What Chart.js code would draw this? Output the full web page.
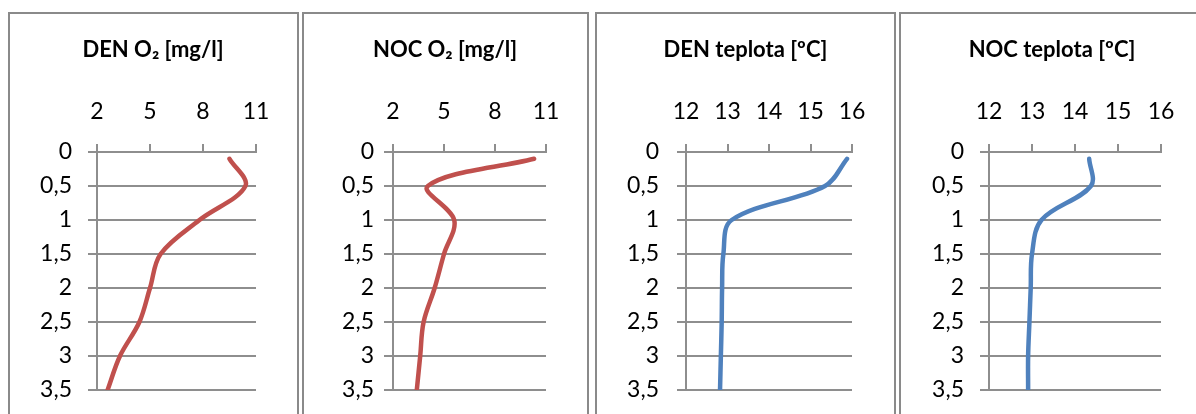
<!DOCTYPE html>
<html>
<head>
<meta charset="utf-8">
<script src="https://cdn.jsdelivr.net/npm/chart.js@4.4.1/dist/chart.umd.min.js"></script>
<style>
  body { margin: 0; background: #fff; width: 1196px; height: 414px; overflow: hidden; position: relative; }
  .panel { position: absolute; top: 12px; height: 440px; border: 2px solid #8a8a8a; box-sizing: border-box; }
  .panel canvas { position: absolute; left: 0; top: 0; }
</style>
</head>
<body>
<div class="panel" style="left:8px;width:291px"><canvas id="c1" width="287" height="400"></canvas></div>
<div class="panel" style="left:302px;width:287px"><canvas id="c2" width="283" height="400"></canvas></div>
<div class="panel" style="left:595px;width:301px"><canvas id="c3" width="297" height="400"></canvas></div>
<div class="panel" style="left:899px;width:320px"><canvas id="c4" width="310" height="400"></canvas></div>
<script>
// depth of each measurement [m]
const depth = [0.1, 0.5, 1, 1.5, 2, 2.5, 3, 3.5];

// oxygen [mg/l]
const denO2 = [9.5, 10.4, 7.8, 5.6, 5.0, 4.4, 3.3, 2.6];
const nocO2 = [10.3, 4.05, 5.6, 5.0, 4.45, 3.8, 3.6, 3.4];

// temperature [oC]
const denTemp = [15.88, 15.35, 13.1, 12.9, 12.87, 12.86, 12.84, 12.82];
const nocTemp = [14.33, 14.37, 13.22, 13.0, 12.97, 12.94, 12.91, 12.91];

// tick labels
const o2Ticks = [2, 5, 8, 11];
const tempTicks = [12, 13, 14, 15, 16];
const depthTicks = [0, 0.5, 1, 1.5, 2, 2.5, 3, 3.5];

const RED = '#C0504D';
const BLUE = '#4F81BD';
const GRID = '#8e8e8e';

Chart.defaults.font.family = 'Lato';
Chart.defaults.color = '#000';

// plotLeft / rightGap: plot area edges inside the canvas, padR: outer right padding (keeps the title centred on the panel)
function profile(id, title, values, color, xTicks, plotLeft, rightGap, padR, yPad) {
  const pts = values.map((v, i) => ({ x: v, y: depth[i] }));
  new Chart(document.getElementById(id), {
    type: 'scatter',
    data: {
      datasets: [{
        data: pts,
        showLine: true,
        borderColor: color,
        borderWidth: 4.5,
        borderCapStyle: 'round',
        borderJoinStyle: 'round',
        pointRadius: 0,
        tension: 0.35
      }]
    },
    options: {
      responsive: false,
      animation: false,
      layout: { padding: { left: 0, right: padR, top: 0, bottom: 24 } },
      plugins: {
        legend: { display: false },
        tooltip: { enabled: false },
        title: {
          display: true,
          text: title,
          font: { size: 22, weight: 'bold' },
          padding: { top: 22.8, bottom: 0 }
        }
      },
      scales: {
        x: {
          type: 'linear',
          position: 'top',
          min: xTicks[0],
          max: xTicks[xTicks.length - 1],
          afterBuildTicks: s => { s.ticks = xTicks.map(v => ({ value: v })); },
          afterFit: s => { s.height = 88.8; s.paddingLeft = 0; s.paddingRight = 0; },
          grid: { drawOnChartArea: false, tickLength: 8, color: GRID, lineWidth: 2 },
          border: { display: true, color: GRID, width: 2 },
          ticks: { font: { size: 23 }, padding: 19, maxRotation: 0 }
        },
        y: {
          type: 'linear',
          reverse: true,
          min: 0,
          max: 3.5,
          afterBuildTicks: s => { s.ticks = depthTicks.map(v => ({ value: v })); },
          afterFit: s => { s.width = plotLeft; s.paddingTop = 0; s.paddingBottom = 0; },
          grid: { tickLength: 9, color: GRID, lineWidth: 2 },
          border: { display: true, color: GRID, width: 2 },
          ticks: {
            font: { size: 23 },
            padding: yPad,
            callback: v => String(v).replace('.', ',')
          }
        },
        // empty spacer on the right side of the plot
        gap: {
          type: 'linear',
          position: 'right',
          grid: { display: false },
          border: { display: false },
          ticks: { display: false },
          afterFit: s => { s.width = rightGap; s.paddingTop = 0; s.paddingBottom = 0; }
        }
      }
    }
  });
}

profile('c1', 'DEN O\u2082 [mg/l]', denO2, RED, o2Ticks, 87, 40, 1, 16);
profile('c2', 'NOC O\u2082 [mg/l]', nocO2, RED, o2Ticks, 89, 40, 1, 10);
profile('c3', 'DEN teplota [\u00BAC]', denTemp, BLUE, tempTicks, 89, 42, 0, 18);
profile('c4', 'NOC teplota [\u00BAC]', nocTemp, BLUE, tempTicks, 88, 42, 8, 16);
</script>
</body>
</html>
